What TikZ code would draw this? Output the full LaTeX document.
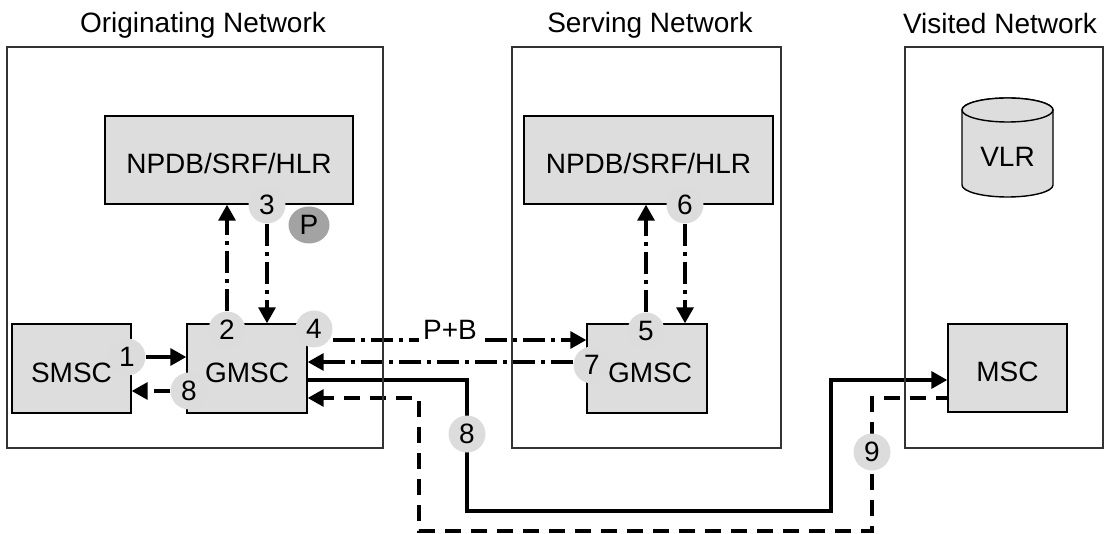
\documentclass[tikz,border=0pt]{standalone}
\usepackage{fontspec}
\setmainfont{Liberation Sans}
\usetikzlibrary{arrows.meta,shapes.geometric}
\pgfdeclarelayer{background}
\pgfsetlayers{background,main}
\definecolor{boxgray}{HTML}{DDDDDD}
\definecolor{circgray}{HTML}{DCDCDC}
\definecolor{pgray}{HTML}{A3A3A3}
\definecolor{netline}{HTML}{333333}
\tikzset{
  txt/.style={font=\fontsize{28}{33}\selectfont},
  netbox/.style={draw=netline, line width=1.3pt, rectangle, inner sep=0pt},
  comp/.style={draw=black, line width=1.4pt, fill=boxgray, rectangle, inner sep=0pt,
               font=\fontsize{28}{33}\selectfont, text height=27pt, text depth=0pt},
  numc/.style={circle, fill=circgray, inner sep=0pt, minimum size=37pt,
               font=\fontsize{28}{33}\selectfont},
  conn/.style={line width=3.4pt, -{Triangle[length=16pt,width=17pt]}},
  dashdot/.style={dash pattern=on 22pt off 6pt on 4pt off 6pt},
  dashlong/.style={dash pattern=on 16pt off 10pt},
}
\begin{document}
\begin{tikzpicture}[x=1pt,y=-1pt]
\useasboundingbox (0,0) rectangle (1105,534);
% network boxes
\node[netbox, minimum width=376pt, minimum height=401pt] (orignet) at (195,247.5) {};
\node[netbox, minimum width=269pt, minimum height=401pt] (servnet) at (646.5,247.5) {};
\node[netbox, minimum width=198pt, minimum height=401pt] (visnet) at (1004,247.5) {};
\node[txt, anchor=base] (t1) at (203,33) {Originating Network};
\node[txt, anchor=base] (t2) at (650,33) {Serving Network};
\node[txt, anchor=base] (t3) at (1000,34) {Visited Network};
% components
\node[comp, minimum width=248pt, minimum height=88pt] (npdb1) at (229,160) {NPDB/SRF/HLR};
\node[comp, minimum width=249pt, minimum height=88pt] (npdb2) at (648.5,160) {NPDB/SRF/HLR};
\node[comp, minimum width=119pt, minimum height=89pt] (smsc) at (71.5,368.5) {SMSC};
\node[comp, minimum width=120pt, minimum height=89pt] (gmsc1) at (247,368.5) {GMSC};
\node[comp, minimum width=120pt, minimum height=89pt] (gmsc2) at (647,368.5) {\hspace*{6pt}GMSC};
\node[comp, minimum width=119pt, minimum height=88pt] (msc) at (1007.5,368) {MSC};
% VLR cylinder
\filldraw[fill=boxgray, draw=black, line width=1.4pt]
  (962,110) -- (962,185) arc[start angle=180, end angle=0, x radius=45.5, y radius=12]
  -- (1053,110) arc[start angle=0, end angle=-180, x radius=45.5, y radius=12] -- cycle;
\filldraw[fill=boxgray, draw=black, line width=1.4pt] (1007.5,110) ellipse[x radius=45.5, y radius=12];
\node[txt] (vlr) at (1007.5,157) {VLR};
% number circles
\node[numc] (c1) at (127,357) {1};
\node[numc] (c8a) at (189,391) {8};
\node[numc] (c2) at (227,330) {2};
\node[numc] (c4) at (314,329) {4};
\node[numc] (c3) at (267,205) {3};
\node[ellipse, fill=pgray, inner sep=0pt, minimum width=41pt, minimum height=37pt,
      font=\fontsize{28}{33}\selectfont] (cp) at (309,225) {P};
\node[numc] (c5) at (646,331) {5};
\node[numc] (c6) at (685,205) {6};
\node[numc] (c7) at (592,365) {7};
\node[numc] (c8b) at (467,434) {8};
\node[numc] (c9) at (872,452) {9};
% connector end and bend points
\coordinate (p4) at ([yshift=-11pt]c4.east);
\coordinate (p7) at ([yshift=3pt]c7.west);
\coordinate (s1) at (467,380);
\coordinate (s2) at (467,511);
\coordinate (s3) at (831,511);
\coordinate (s4) at (831,380);
\coordinate (d0) at (952,398);
\coordinate (d1) at (872,398);
\coordinate (d2) at (872,531);
\coordinate (d3) at (419,531);
\coordinate (d4) at (419,398);
% P+B label
\node[txt, fill=white, inner xsep=4pt, inner ysep=2pt, text height=21pt, text depth=9pt] (pb) at (450,334) {P+B};
\begin{pgfonlayer}{background}
\draw[conn] (c1.east) -- (gmsc1.west |- c1.east);
\draw[conn, dashlong] (c8a) -- (smsc.east |- c8a);
\draw[conn, dashdot] (c2) -- (c2 |- npdb1.south);
\draw[conn, dashdot] (c3) -- (c3 |- gmsc1.north);
\draw[conn, dashdot] (p4) -- (gmsc2.west |- p4);
\draw[conn, dashdot] (p7) -- (gmsc1.east |- p7);
\draw[conn, dashdot] (c5) -- (c5 |- npdb2.south);
\draw[conn, dashdot] (c6) -- (c6 |- gmsc2.north);
\draw[conn, line join=miter] (gmsc1.east |- s1) -- (s1) -- (s2) -- (s3) -- (s4) -- (msc.west |- s4);
\draw[conn, dashlong, line join=miter] (d0) -- (d1) -- (d2) -- (d3) -- (d4) -- (gmsc1.east |- d4);
\end{pgfonlayer}
\end{tikzpicture}
\end{document}
